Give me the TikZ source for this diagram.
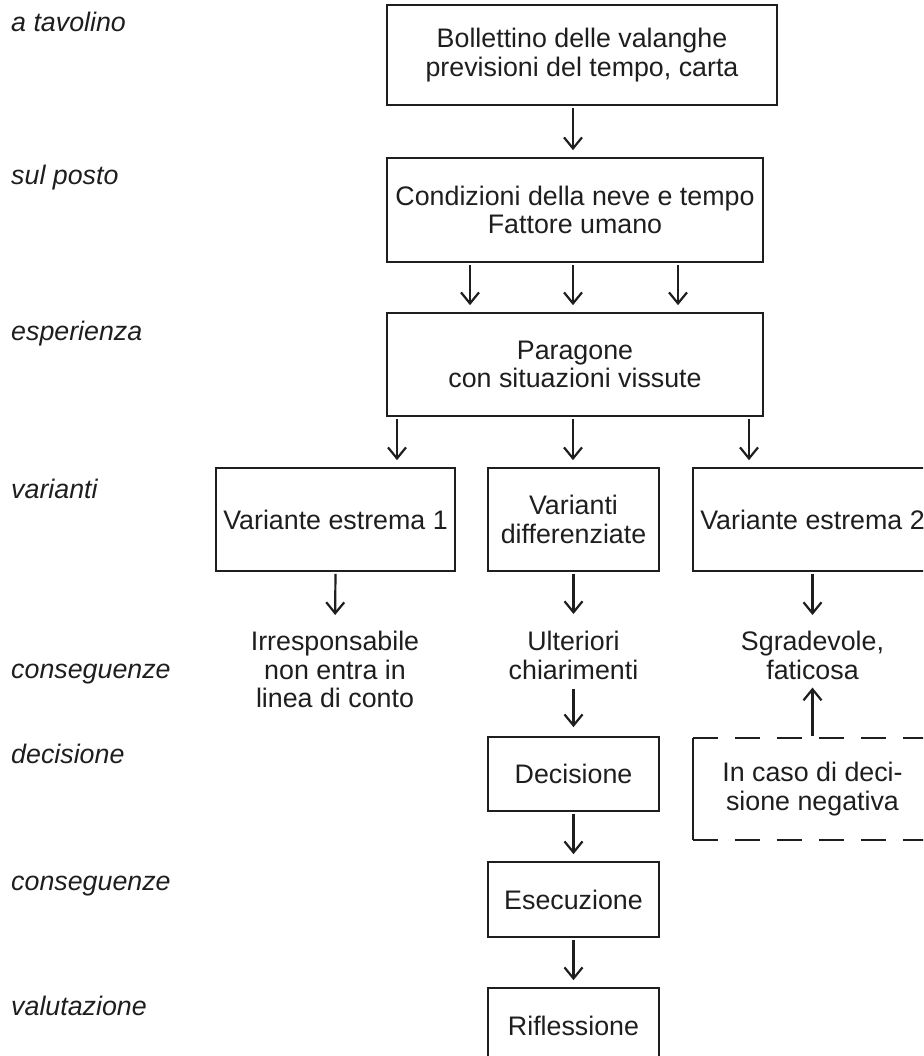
\documentclass[tikz,border=0pt]{standalone}
\usepackage{fontspec}
\setmainfont{Liberation Sans}
\usetikzlibrary{arrows.meta}
\definecolor{ink}{HTML}{1E1E1E}
\newcommand\figfs{\fontsize{26.8}{28.5}\selectfont}
\begin{document}
\begin{tikzpicture}[x=1pt,y=-1pt,
  box/.style={draw=ink, line width=1.7pt, inner sep=0pt, align=center, font=\figfs, text=ink},
  txt/.style={inner sep=0pt, align=center, font=\figfs, text=ink},
  lab/.style={anchor=base west, inner sep=0pt, font=\figfs\itshape, text=ink},
  arr/.style={draw=ink, line width=2.2pt, line join=round,
    -{Straight Barb[length=11pt,width=18pt,line width=2.2pt]}},
  dashedge/.style={draw=ink, line width=1.7pt, dash pattern=on 25pt off 17pt},
  solidedge/.style={draw=ink, line width=1.7pt},
]
\useasboundingbox (0,0) rectangle (923,1056);
\clip (0,0) rectangle (923,1056);

% left labels
\node[lab] (l1) at (11,32) {a tavolino};
\node[lab] (l2) at (11,185) {sul posto};
\node[lab] (l3) at (11,340) {esperienza};
\node[lab] (l4) at (11,498) {varianti};
\node[lab] (l5) at (11,678) {conseguenze};
\node[lab] (l6) at (11,763) {decisione};
\node[lab] (l7) at (11,890) {conseguenze};
\node[lab] (l8) at (11,1015) {valutazione};

% boxes
\node[box, minimum width=390pt, minimum height=100pt] (b1) at (582,55) {Bollettino delle valanghe\\previsioni del tempo, carta};
\node[box, minimum width=376pt, minimum height=104pt] (b2) at (575,210) {Condizioni della neve e tempo\\Fattore umano};
\node[box, minimum width=376pt, minimum height=103pt] (b3) at (575,364.5) {Paragone\\con situazioni vissute};
\node[box, minimum width=239pt, minimum height=103pt] (ve1) at (335.5,519.5) {Variante estrema 1};
\node[box, minimum width=171pt, minimum height=103pt] (vd) at (573.5,519.5) {Varianti\\differenziate};
\node[box, minimum width=239pt, minimum height=103pt] (ve2) at (812.5,519.5) {Variante estrema 2};

% consequences
\node[txt, anchor=north] (irr) at (335,631) {Irresponsabile\\non entra in\\linea di conto};
\node[txt, anchor=north] (ult) at (573.5,631) {Ulteriori\\chiarimenti};
\node[txt, anchor=north] (sg) at (812.5,631) {Sgradevole,\\faticosa};

\node[box, minimum width=171pt, minimum height=74pt] (dec) at (573.5,774) {Decisione};
\node[txt, minimum width=239pt, minimum height=102pt] (neg) at (812.5,789) {In caso di deci-\\sione negativa};
\draw[dashedge] (neg.north west) -- (neg.north east);
\draw[dashedge] (neg.south west) -- (neg.south east);
\draw[solidedge] (neg.north west) -- (neg.south west);

\node[box, minimum width=171pt, minimum height=75pt] (ese) at (573.5,899.5) {Esecuzione};
\node[box, minimum width=171pt, minimum height=75pt] (rif) at (573.5,1025.5) {Riflessione};

% x positions of arrows
\coordinate (xa) at (573,0);
\coordinate (xb) at (470,0);
\coordinate (xc) at (678,0);
\coordinate (xd) at (397,0);
\coordinate (xe) at (749,0);

\draw[arr, shorten >=7pt, shorten <=2pt] (b1.south -| xa) -- (b2.north -| xa);
\draw[arr, shorten >=7pt, shorten <=2pt] (b2.south -| xb) -- (b3.north -| xb);
\draw[arr, shorten >=7pt, shorten <=2pt] (b2.south -| xa) -- (b3.north -| xa);
\draw[arr, shorten >=7pt, shorten <=2pt] (b2.south -| xc) -- (b3.north -| xc);
\draw[arr, shorten >=7pt, shorten <=2pt] (b3.south -| xd) -- (ve1.north -| xd);
\draw[arr, shorten >=7pt, shorten <=2pt] (b3.south -| xa) -- (vd.north -| xa);
\draw[arr, shorten >=7pt, shorten <=2pt] (b3.south -| xe) -- (ve2.north -| xe);

\draw[arr, shorten >=16pt, shorten <=2pt] (ve1.south) -- (irr.north);
\draw[arr, shorten >=17pt, shorten <=2pt] (vd.south) -- (ult.north);
\draw[arr, shorten >=16pt, shorten <=2pt] (ve2.south) -- (sg.north);
\draw[arr, shorten >=9pt, shorten <=9pt] (ult.south) -- (dec.north);
\draw[arr, shorten >=8pt, shorten <=2pt] (neg.north) -- (sg.south);
\draw[arr, shorten >=7pt, shorten <=2pt] (dec.south) -- (ese.north);
\draw[arr, shorten >=7pt, shorten <=2pt] (ese.south) -- (rif.north);
\end{tikzpicture}
\end{document}
